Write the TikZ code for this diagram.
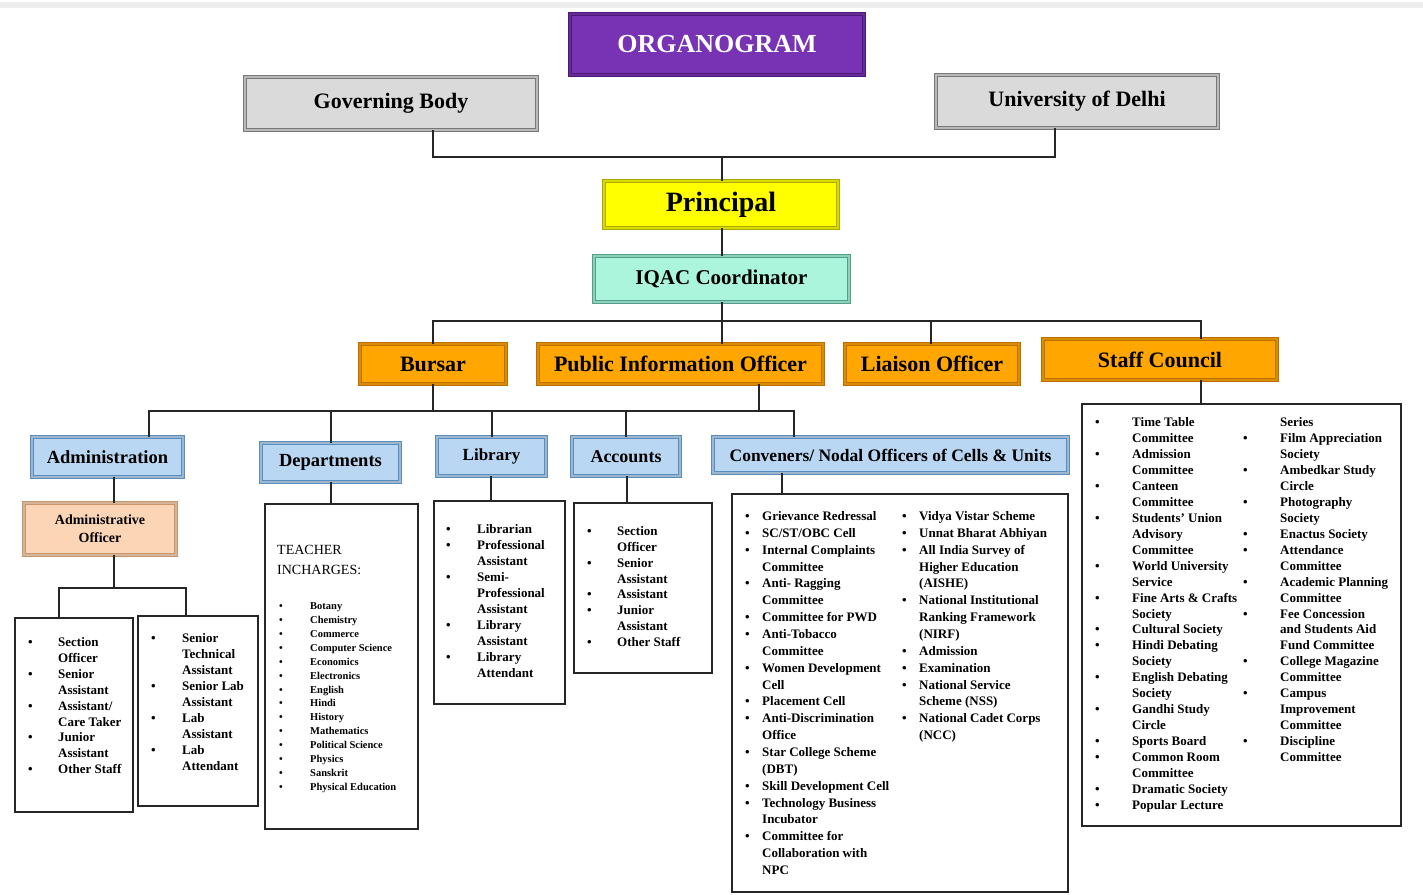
\documentclass[tikz,border=0pt]{standalone}
\usepackage{fontspec}
\setmainfont{Liberation Serif}
\definecolor{purF}{RGB}{120,50,180}
\definecolor{purD}{RGB}{75,25,120}
\definecolor{gryF}{RGB}{218,218,218}
\definecolor{gryD}{RGB}{120,120,120}
\definecolor{yelF}{RGB}{255,255,0}
\definecolor{yelD}{RGB}{170,170,0}
\definecolor{aqF}{RGB}{170,245,220}
\definecolor{aqD}{RGB}{80,160,140}
\definecolor{orF}{RGB}{255,166,0}
\definecolor{orD}{RGB}{190,110,0}
\definecolor{blF}{RGB}{185,215,242}
\definecolor{blD}{RGB}{90,140,190}
\definecolor{peF}{RGB}{251,213,181}
\definecolor{peD}{RGB}{200,150,110}
\newcommand\fsz[2]{\fontsize{#1}{#2}\selectfont}
\newcommand\lfont{\fsz{13}{16}\bfseries}
\newcommand\dfont{\fsz{10.5}{13}\bfseries}
\newcommand\listcol[7]{%
  \foreach \b/\t [count=\i] in {#7}{%
    \pgfmathsetmacro\yy{#4+(\i-1)*#5}%
    \node[lt,font=#6] (#1-\i) at (#3,\yy) {\t};%
    \ifnum\b=1 \node[lt,font=#6] (#1-bul\i) at (#2,\yy) {\textbullet};\fi
  }%
}
\begin{document}
\begin{tikzpicture}[x=1pt,y=-1pt,
  hbox/.style 2 args={fill=#1, draw=#2, double=#1!85!black, double distance=2.2pt, line width=0.7pt, inner sep=0pt, font=\bfseries},
  listbox/.style={draw=black!85, line width=1.8pt, fill=white, anchor=north west, inner sep=0pt},
  conn/.style={draw=black!85, line width=2pt},
  bus/.style={draw=black!85, line width=2.6pt},
  lt/.style={inner sep=0pt, anchor=base west},
]
\useasboundingbox (0,0) rectangle (1423,894);
\fill[black!7] (0,2) rectangle (1423,8);

% header boxes
\node[hbox={purF}{purD}, minimum width=294pt, minimum height=61pt, text=white, font=\fsz{26}{30}\bfseries] (org) at (717,44.5) {ORGANOGRAM};
\node[hbox={gryF}{gryD}, minimum width=292pt, minimum height=53pt, font=\fsz{22}{26}\bfseries] (gb) at (391,103.5) {Governing Body};
\node[hbox={gryF}{gryD}, minimum width=282pt, minimum height=53pt, font=\fsz{22}{26}\bfseries] (uod) at (1077,101.5) {University of Delhi};
\node[hbox={yelF}{yelD}, minimum width=234pt, minimum height=47pt, font=\fsz{28}{32}\bfseries] (prin) at (721,204.5) {Principal};
\node[hbox={aqF}{aqD}, minimum width=255pt, minimum height=46pt, font=\fsz{21}{25}\bfseries] (iqac) at (721.5,279) {IQAC Coordinator};
\node[hbox={orF}{orD}, minimum width=146pt, minimum height=40pt, font=\fsz{22}{26}\bfseries] (bursar) at (433,364) {Bursar};
\node[hbox={orF}{orD}, minimum width=285pt, minimum height=40pt, font=\fsz{22}{26}\bfseries] (pio) at (680.5,364) {Public Information Officer};
\node[hbox={orF}{orD}, minimum width=174pt, minimum height=40pt, font=\fsz{22}{26}\bfseries] (liaison) at (932,364) {Liaison Officer};
\node[hbox={orF}{orD}, minimum width=234pt, minimum height=41pt, font=\fsz{22}{26}\bfseries] (staff) at (1160,359.5) {Staff Council};
\node[hbox={blF}{blD}, minimum width=151pt, minimum height=40pt, font=\fsz{18.5}{22}\bfseries] (admin) at (107.5,457) {Administration};
\node[hbox={blF}{blD}, minimum width=139pt, minimum height=39pt, font=\fsz{18.5}{22}\bfseries] (dept) at (330.5,462.5) {Departments};
\node[hbox={blF}{blD}, minimum width=109pt, minimum height=39pt, font=\fsz{17}{21}\bfseries] (lib) at (491.5,456.5) {Library};
\node[hbox={blF}{blD}, minimum width=108pt, minimum height=39pt, font=\fsz{18}{22}\bfseries] (acc) at (626,456.5) {Accounts};
\node[hbox={blF}{blD}, minimum width=355pt, minimum height=36pt, font=\fsz{17.5}{21}\bfseries] (conv) at (890.5,455) {Conveners/ Nodal Officers of Cells \& Units};
\node[hbox={peF}{peD}, minimum width=152pt, minimum height=52pt, align=center, font=\fsz{14}{18}\bfseries] (ao) at (100,529) {Administrative\\Officer};

% list boxes
\node[listbox, minimum width=118pt, minimum height=194pt] (b1) at (14,617) {};
\node[listbox, minimum width=120pt, minimum height=190pt] (b2) at (137,615) {};
\node[listbox, minimum width=153pt, minimum height=325pt] (dbox) at (264,503) {};
\node[listbox, minimum width=131pt, minimum height=203pt] (lbox) at (433,500) {};
\node[listbox, minimum width=138pt, minimum height=170pt] (abox) at (573,502) {};
\node[listbox, minimum width=336pt, minimum height=398pt] (cbox) at (731,493) {};
\node[listbox, minimum width=319pt, minimum height=422pt] (sbox) at (1081,403) {};

% connectors
\coordinate (j1) at (722,157);
\draw[bus] ([xshift=42pt]gb.south) |- (j1) -| ([xshift=-22pt]uod.south);
\draw[conn] (j1) -- ([xshift=1pt]prin.north);
\draw[conn] ([xshift=1pt]prin.south) -- ([xshift=0.5pt]iqac.north);
\coordinate (j2) at (722,321);
\draw[conn] ([xshift=0.5pt]iqac.south) -- (j2);
\draw[bus] (bursar.north) |- (j2) -| ([xshift=41pt]staff.north);
\draw[conn] (j2) -- ([xshift=41.5pt]pio.north);
\draw[conn] ([xshift=-1pt]liaison.north) -- ([xshift=-1pt]liaison.north |- j2);
\coordinate (j3) at (433,411);
\draw[conn] (bursar.south) -- (j3);
\draw[conn] ([xshift=78.5pt]pio.south) -- ([xshift=78.5pt]pio.south |- j3);
\draw[bus] ([xshift=41.5pt]admin.north) |- (j3) -| ([xshift=-96.5pt]conv.north);
\draw[conn] (dept.north) -- (dept.north |- j3);
\draw[conn] (lib.north) -- (lib.north |- j3);
\draw[conn] (acc.north) -- (acc.north |- j3);
\draw[conn] ([xshift=6.5pt]admin.south) -- ([xshift=14pt]ao.north);
\coordinate (j4) at (114,588);
\draw[conn] ([xshift=14pt]ao.south) -- (j4);
\draw[conn] ([xshift=-15pt]b1.north) |- (j4) -| ([xshift=-12pt]b2.north);
\draw[conn] (dept.south) -- (dept.south |- dbox.north);
\draw[conn] ([xshift=-1pt]lib.south) -- ([xshift=-1pt]lib.south |- lbox.north);
\draw[conn] ([xshift=1pt]acc.south) -- ([xshift=1pt]acc.south |- abox.north);
\draw[conn] ([xshift=-108.5pt]conv.south) -- ([xshift=-108.5pt]conv.south |- cbox.north);
\draw[conn] ([xshift=41pt]staff.south) -- ([xshift=41pt]staff.south |- sbox.north);

% list texts
\listcol{ad}{28}{58}{646.5}{15.9}{\lfont}{1/{Section},0/{Officer},1/{Senior},0/{Assistant},1/{Assistant/},0/{Care Taker},1/{Junior},0/{Assistant},1/{Other Staff}}
\listcol{te}{151}{182}{642.5}{16}{\lfont}{1/{Senior},0/{Technical},0/{Assistant},1/{Senior Lab},0/{Assistant},1/{Lab},0/{Assistant},1/{Lab},0/{Attendant}}
\node[lt,font=\fsz{14}{18}] (tch1) at (277,554) {TEACHER};
\node[lt,font=\fsz{14}{18}] (tch2) at (277,574) {INCHARGES:};
\listcol{dp}{279}{310}{609.5}{13.92}{\dfont}{1/{Botany},1/{Chemistry},1/{Commerce},1/{Computer Science},1/{Economics},1/{Electronics},1/{English},1/{Hindi},1/{History},1/{Mathematics},1/{Political Science},1/{Physics},1/{Sanskrit},1/{Physical Education}}
\listcol{lb}{446}{477}{533.5}{16}{\lfont}{1/{Librarian},1/{Professional},0/{Assistant},1/{Semi-},0/{Professional},0/{Assistant},1/{Library},0/{Assistant},1/{Library},0/{Attendant}}
\listcol{ac}{587}{617}{535.5}{15.86}{\lfont}{1/{Section},0/{Officer},1/{Senior},0/{Assistant},1/{Assistant},1/{Junior},0/{Assistant},1/{Other Staff}}
\listcol{cl}{745}{762}{520.5}{16.86}{\lfont}{1/{Grievance Redressal},1/{SC/ST/OBC Cell},1/{Internal Complaints},0/{Committee},1/{Anti- Ragging},0/{Committee},1/{Committee for PWD},1/{Anti-Tobacco},0/{Committee},1/{Women Development},0/{Cell},1/{Placement Cell},1/{Anti-Discrimination},0/{Office},1/{Star College Scheme},0/{(DBT)},1/{Skill Development Cell},1/{Technology Business},0/{Incubator},1/{Committee for},0/{Collaboration with},0/{NPC}}
\listcol{cr}{902}{919}{520.5}{16.86}{\lfont}{1/{Vidya Vistar Scheme},1/{Unnat Bharat Abhiyan},1/{All India Survey of},0/{Higher Education},0/{(AISHE)},1/{National Institutional},0/{Ranking Framework},0/{(NIRF)},1/{Admission},1/{Examination},1/{National Service},0/{Scheme (NSS)},1/{National Cadet Corps},0/{(NCC)}}
\listcol{sl}{1095}{1132}{426.5}{15.96}{\lfont}{1/{Time Table},0/{Committee},1/{Admission},0/{Committee},1/{Canteen},0/{Committee},1/{Students' Union},0/{Advisory},0/{Committee},1/{World University},0/{Service},1/{Fine Arts \& Crafts},0/{Society},1/{Cultural Society},1/{Hindi Debating},0/{Society},1/{English Debating},0/{Society},1/{Gandhi Study},0/{Circle},1/{Sports Board},1/{Common Room},0/{Committee},1/{Dramatic Society},1/{Popular Lecture}}
\listcol{sr}{1243}{1280}{426.5}{15.96}{\lfont}{0/{Series},1/{Film Appreciation},0/{Society},1/{Ambedkar Study},0/{Circle},1/{Photography},0/{Society},1/{Enactus Society},1/{Attendance},0/{Committee},1/{Academic Planning},0/{Committee},1/{Fee Concession},0/{and Students Aid},0/{Fund Committee},1/{College Magazine},0/{Committee},1/{Campus},0/{Improvement},0/{Committee},1/{Discipline},0/{Committee}}
\end{tikzpicture}
\end{document}
